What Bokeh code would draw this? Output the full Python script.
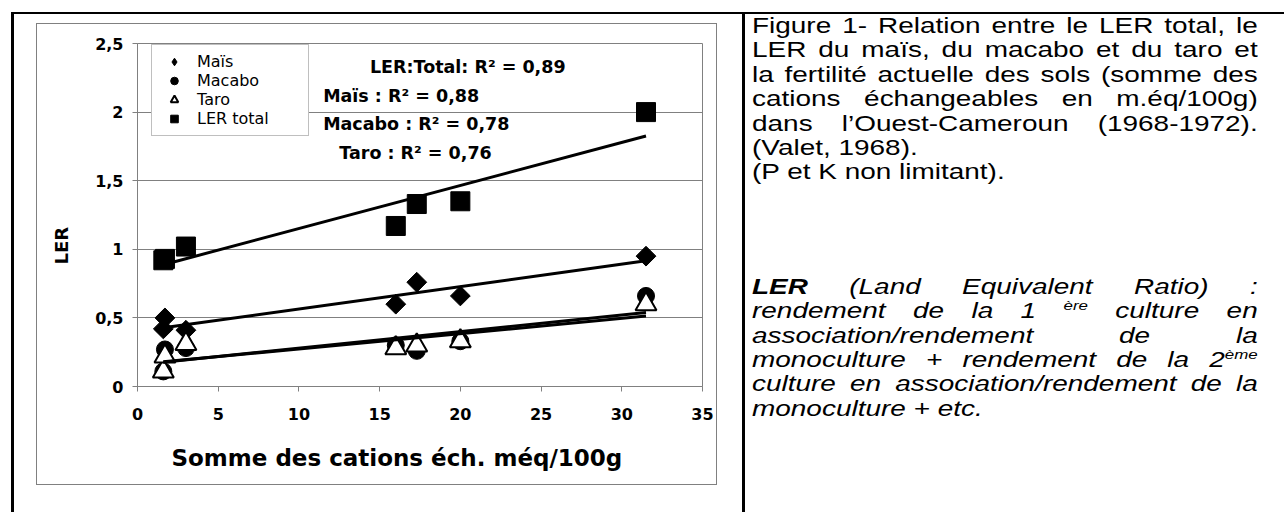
import numpy as np
from bokeh.plotting import figure
from bokeh.models import Range1d, FixedTicker, Div, Title, Legend, LegendItem
from bokeh.layouts import row
from bokeh.embed import file_html
from bokeh.resources import INLINE
from bokeh.core.properties import value

# ---------------- data ----------------
cations = [1.6, 1.7, 3.0, 16.0, 17.3, 20.0, 31.5]          # somme des cations éch. (méq/100g)
ler_mais = [0.42, 0.50, 0.41, 0.60, 0.76, 0.66, 0.95]
ler_macabo = [0.11, 0.27, 0.28, 0.30, 0.26, 0.33, 0.66]
ler_taro = [0.11, 0.22, 0.31, 0.28, 0.30, 0.33, 0.60]
ler_total = [0.92, 0.93, 1.02, 1.17, 1.33, 1.35, 2.00]
series_labels = ["Maïs", "Macabo", "Taro", "LER total"]

r2_texts = ["LER:Total: R² = 0,89", "Maïs : R² = 0,88", "Macabo : R² = 0,78", "Taro : R² = 0,76"]
r2_x = [14.4, 11.5, 11.5, 12.5]
r2_y = [2.33, 2.12, 1.91, 1.70]

x_ticks = [0, 5, 10, 15, 20, 25, 30, 35]
y_ticks = [0, 0.5, 1, 1.5, 2, 2.5]
y_tick_labels = ["0", "0,5", "1", "1,5", "2", "2,5"]
x_title = "Somme des cations éch. méq/100g"
y_title = "LER"

caption_lines = [
    "Figure 1- Relation entre le LER total, le",
    "LER du maïs, du macabo et du taro et",
    "la fertilité actuelle des sols (somme des",
    "cations échangeables en m.éq/100g)",
    "dans l’Ouest-Cameroun (1968-1972).",
    "(Valet, 1968).",
    "(P et K non limitant).",
]
caption_justified = [True, True, True, True, True, False, False]

definition_lines = [
    "<b>LER</b> (Land Equivalent Ratio) :",
    "rendement de la 1 <sup>ère</sup> culture en",
    "association/rendement de la",
    "monoculture + rendement de la 2<sup>ème</sup>",
    "culture en association/rendement de la",
    "monoculture + etc.",
]
definition_justified = [True, True, True, True, True, False]

# ---------------- styling ----------------
FONT_CHART = "DejaVu Sans"
GREY = "#808080"

# the grey chart-area box is drawn 10px inside the canvas edge (outline-offset),
# leaving room around it for the axis titles; the canvas border is transparent
p = figure(width=699, height=480,
           x_range=Range1d(0, 35), y_range=Range1d(0, 2.5),
           output_backend="svg", toolbar_location=None,
           min_border_left=108, min_border_right=24, min_border_top=29, min_border_bottom=108,
           margin=(0, 16, 0, 13),
           styles={"outline": f"1px solid {GREY}", "outline-offset": "-10px",
                   "background-color": "white"},
           background_fill_color="white", border_fill_color=None)
p.outline_line_color = GREY
p.outline_line_width = 1
p.xgrid.visible = False
p.ygrid.grid_line_color = GREY
p.ygrid.grid_line_width = 1

for ax in (p.xaxis[0], p.yaxis[0]):
    ax.axis_line_color = GREY
    ax.major_tick_line_color = GREY
    ax.major_tick_out = 5
    ax.major_tick_in = 0
    ax.minor_tick_line_color = None
    ax.major_label_text_font = FONT_CHART
    ax.major_label_text_font_size = "16px"
    ax.major_label_text_font_style = "bold"
    ax.major_label_text_color = "black"

p.xaxis.ticker = FixedTicker(ticks=x_ticks)
p.yaxis.ticker = FixedTicker(ticks=y_ticks)
p.yaxis.major_label_overrides = dict(zip(y_ticks, y_tick_labels))
p.xaxis.major_label_standoff = 16
p.yaxis.major_label_standoff = 9

# axis titles (placed like the Excel titles, off the plot-area centre)
p.add_layout(Title(text=x_title, align="left", offset=34, standoff=40,
                   text_font=FONT_CHART, text_font_size="23px", text_font_style="bold",
                   text_color="black"), "below")
p.add_layout(Title(text=y_title, align="left", offset=122, standoff=42,
                   text_font=FONT_CHART, text_font_size="18px", text_font_style="bold",
                   text_color="black"), "left")

# markers
r_mais = p.scatter(cations, ler_mais, marker="square", angle=np.pi / 4, size=14,
                   fill_color="black", line_color="black")
r_macabo = p.scatter(cations, ler_macabo, marker="circle", size=17,
                     fill_color="black", line_color="black")
r_taro = p.scatter(cations, ler_taro, marker="triangle", size=21,
                   fill_color="white", line_color="black", line_width=2)
r_total = p.scatter(cations, ler_total, marker="square", size=19,
                    fill_color="black", line_color="black")
# legend swatch for the diamond series (marker rotation is not shown in legends)
r_mais_key = p.scatter([np.nan], [np.nan], marker="diamond", size=14,
                       fill_color="black", line_color="black")

# linear trend lines (least squares over the data range)
for ys in (ler_total, ler_mais, ler_macabo, ler_taro):
    slope, intercept = np.polyfit(cations, ys, 1)
    xs = np.array([min(cations), max(cations)])
    p.line(xs, slope * xs + intercept, line_color="black", line_width=3)

# R² annotations
p.text(x=r2_x, y=r2_y, text=r2_texts, text_font=value(FONT_CHART), text_font_size="17.5px",
       text_font_style="bold", text_baseline="middle", text_align="left", text_color="black")

leg = Legend(items=[LegendItem(label=series_labels[0], renderers=[r_mais_key]),
                    LegendItem(label=series_labels[1], renderers=[r_macabo]),
                    LegendItem(label=series_labels[2], renderers=[r_taro]),
                    LegendItem(label=series_labels[3], renderers=[r_total])],
             location=(14, 250))
leg.border_line_color = GREY
leg.border_line_width = 1
leg.background_fill_color = "white"
leg.background_fill_alpha = 1
leg.padding = 7
leg.spacing = 0
leg.margin = 0
leg.glyph_width = 30
leg.glyph_height = 19
leg.label_height = 19
leg.label_width = 104
leg.label_standoff = 8
leg.label_text_font = FONT_CHART
leg.label_text_font_size = "16px"
leg.label_text_color = "black"
p.add_layout(leg, "center")


def line_html(text, justified):
    if justified:
        return f'<div style="text-align:justify;text-align-last:justify">{text}</div>'
    return f'<div style="text-align:left">{text}</div>'


sup_fix = '<sup style="font-size:13px;line-height:0;vertical-align:8px">'
caption_html = "".join(line_html(t, j) for t, j in zip(caption_lines, caption_justified))
definition_html = "".join(line_html(t.replace("<sup>", sup_fix), j)
                          for t, j in zip(definition_lines, definition_justified))

html = ('<div style="box-sizing:border-box;height:498px;width:542px;border-left:3px solid #000;'
        'padding-left:7px">'
        '<div style="width:389px;transform:scaleX(1.3);transform-origin:0 0;'
        'font-family:\'Liberation Sans\';font-size:21.5px;line-height:24.4px;color:#000">'
        + caption_html +
        '<div style="height:90px"></div>'
        '<div style="font-style:italic">' + definition_html + '</div>'
        '</div></div>')
text_div = Div(text=html, width=542, height=498, margin=(0, 0, 0, 0))

root = row(p, text_div, margin=(12, 0, 0, 11),
           styles={"border-top": "2px solid #000", "border-left": "3px solid #000"})

open("out.html", "w").write(file_html(root, INLINE, "LER"))
